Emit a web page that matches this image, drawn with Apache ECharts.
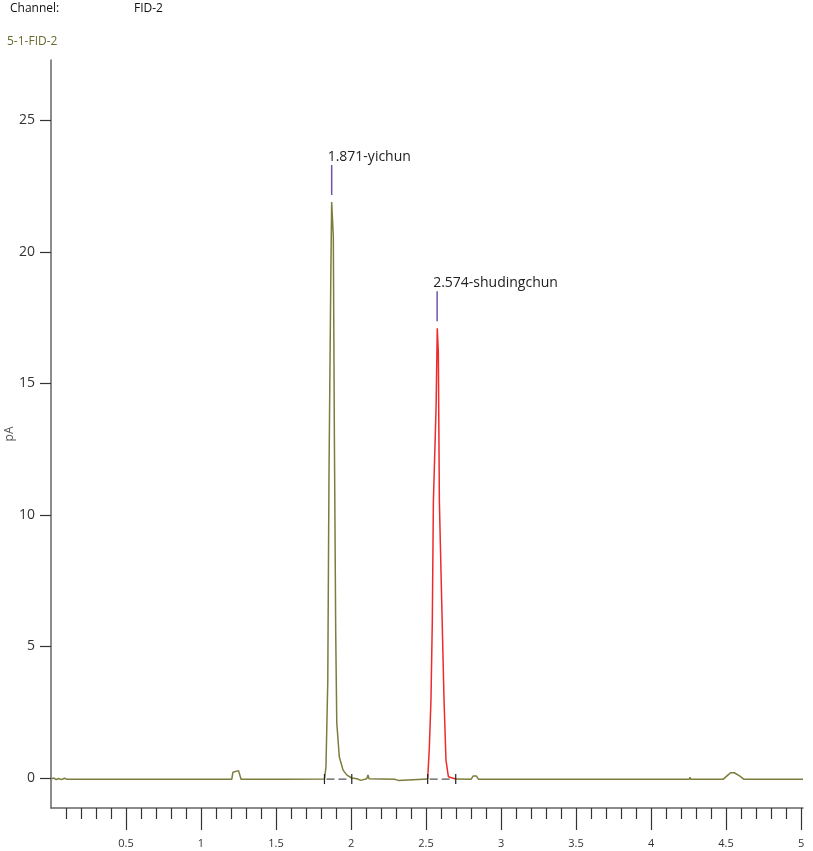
<!DOCTYPE html>
<html>
<head>
<meta charset="utf-8">
<script src="https://cdn.jsdelivr.net/npm/echarts@6/dist/echarts.min.js"></script>
<style>
html,body{margin:0;padding:0;background:#fff;}
#chart{width:813px;height:851px;}
</style>
</head>
<body>
<div id="chart"></div>
<script>
// ---- data ----
// olive FID-2 trace (time in min, signal in pA); null marks where the red peak takes over
const oliveTime = [0.005,0.02,0.035,0.05,0.07,0.09,0.107,0.5,1.0,1.205,1.213,1.222,1.25,1.258,1.267,1.52,1.527,1.533,1.555,1.56,1.566,
  1.823,1.833,1.845,1.853,1.865,1.871,1.882,1.889,1.898,1.905,1.922,1.947,1.973,2.005,2.04,2.047,2.053,2.065,2.07,2.105,2.113,2.12,
  2.29,2.297,2.303,2.315,2.32,2.511,2.6,2.698,2.80,2.815,2.835,2.85,4.255,4.26,4.265,4.48,4.51,4.53,4.555,4.59,4.62,5.013];
const oliveSignal = [-0.03,0.0,-0.06,-0.02,-0.06,-0.01,-0.05,-0.05,-0.05,-0.05,0.22,0.28,0.28,0.22,-0.05,-0.05,-0.09,-0.05,-0.05,-0.09,-0.05,
  -0.04,0.42,3.65,11.4,18.9,21.9,20.6,13.0,5.5,2.1,0.8,0.3,0.11,0.0,-0.03,-0.09,-0.04,-0.09,-0.04,-0.03,0.12,-0.03,
  -0.05,-0.09,-0.05,-0.09,-0.05,-0.04,null,-0.04,-0.05,0.08,0.08,-0.05,-0.05,0.03,-0.05,-0.05,0.1,0.2,0.2,0.08,-0.05,-0.05];
// red integrated peak
const redTime = [2.511,2.522,2.533,2.542,2.549,2.567,2.575,2.582,2.589,2.605,2.620,2.633,2.649,2.698];
const redSignal = [-0.04,1.14,2.97,6.0,10.5,14.1,17.1,16.2,10.5,6.6,2.97,0.68,0.05,-0.04];
// peak labels
const peakTimes = [1.871, 2.574];
const peakHeights = [21.9, 17.1];
const peakNames = ['1.871-yichun', '2.574-shudingchun'];
// integration baselines
const intStart = [1.823, 2.511];
const intEnd = [2.005, 2.698];
const intLevel = [-0.04, -0.04];
// axis ticks
const xMajorTicks = [0.5,1,1.5,2,2.5,3,3.5,4,4.5,5];
const xMajorLabels = ['0.5','1','1.5','2','2.5','3','3.5','4','4.5','5'];
const yTicks = [0,5,10,15,20,25];
const yTickLabels = ['0','5','10','15','20','25'];

const xMinorTicks = [];
for (let i = 1; i < 50; i++) { if (i % 5 !== 0) xMinorTicks.push(i / 10); }

const oliveData = oliveTime.map((t, i) => [t, oliveSignal[i] === null ? '-' : oliveSignal[i]]);
const redData = redTime.map((t, i) => [t, redSignal[i]]);
const peakData = peakTimes.map((t, i) => [t, peakHeights[i], i]);
const intData = intStart.map((s, i) => [s, intEnd[i], intLevel[i]]);

const FONT = '"Open Sans", "Noto Sans", sans-serif';
const X_MIN = 0, X_MAX = 5.013, Y_MIN = -1.14, Y_MAX = 27.3;

const chart = echarts.init(document.getElementById('chart'), null, {renderer: 'canvas'});
chart.setOption({
  animation: false,
  backgroundColor: '#fff',
  grid: {left: 51, right: 10, top: 60, bottom: 43, containLabel: false, outerBoundsMode: 'none'},
  graphic: [
    {type: 'text', left: 10, top: 3, style: {text: 'Channel:', fill: '#111', font: '12px ' + FONT}},
    {type: 'text', left: 134, top: 3, style: {text: 'FID-2', fill: '#111', font: '12px ' + FONT}},
    {type: 'text', left: 7, top: 36, style: {text: '5-1-FID-2', fill: '#6b6b2e', font: '12px ' + FONT}}
  ],
  xAxis: [
    {
      type: 'value', min: X_MIN, max: X_MAX, position: 'bottom',
      axisLine: {show: true, onZero: false, lineStyle: {color: '#666', width: 1.5}},
      axisTick: {show: true, inside: false, length: 22, customValues: xMajorTicks, lineStyle: {color: '#333', width: 1.2}},
      axisLabel: {show: true, customValues: xMajorTicks, margin: 30, color: '#333', fontSize: 11, fontFamily: FONT,
        formatter: v => { const i = xMajorTicks.findIndex(m => Math.abs(m - v) < 1e-6); return i >= 0 ? xMajorLabels[i] : ''; }},
      splitLine: {show: false}
    },
    {
      type: 'value', min: X_MIN, max: X_MAX, position: 'bottom', offset: 0,
      axisLine: {show: false, onZero: false},
      axisTick: {show: true, inside: false, length: 11, customValues: xMinorTicks, lineStyle: {color: '#333', width: 1.2}},
      axisLabel: {show: false},
      splitLine: {show: false}
    }
  ],
  yAxis: {
    type: 'value', min: Y_MIN, max: Y_MAX,
    name: 'pA', nameLocation: 'middle', nameGap: 35, nameRotate: 90, nameMoveOverlap: false,
    nameTextStyle: {color: '#555', fontSize: 12, fontFamily: FONT},
    axisLine: {show: true, onZero: false, lineStyle: {color: '#666', width: 1.5}},
    axisTick: {show: true, inside: false, length: 11, customValues: yTicks, lineStyle: {color: '#333', width: 1.2}},
    axisLabel: {show: true, customValues: yTicks, margin: 16, color: '#333', fontSize: 14, fontFamily: FONT,
      formatter: v => { const i = yTicks.findIndex(m => Math.abs(m - v) < 1e-6); return i >= 0 ? yTickLabels[i] : ''; }},
    splitLine: {show: false}
  },
  series: [
    {
      type: 'line', name: 'FID-2', xAxisIndex: 0, data: oliveData, showSymbol: false, symbol: 'none',
      connectNulls: false, lineStyle: {color: '#7c7c3c', width: 1.5}, z: 2
    },
    {
      type: 'line', name: 'peak', xAxisIndex: 0, data: redData, showSymbol: false, symbol: 'none',
      lineStyle: {color: '#ee2a2a', width: 1.5}, z: 3
    },
    {
      type: 'custom', xAxisIndex: 0, data: intData, z: 4, clip: false,
      renderItem: (params, api) => {
        const a = api.coord([api.value(0), api.value(2)]);
        const b = api.coord([api.value(1), api.value(2)]);
        return {type: 'group', children: [
          {type: 'line', shape: {x1: a[0] + 2, y1: a[1], x2: b[0] - 2, y2: b[1]}, style: {stroke: '#555', lineWidth: 1.2, lineDash: [8, 4]}},
          {type: 'line', shape: {x1: a[0], y1: a[1] - 5, x2: a[0], y2: a[1] + 5}, style: {stroke: '#222', lineWidth: 1.2}},
          {type: 'line', shape: {x1: b[0], y1: b[1] - 5, x2: b[0], y2: b[1] + 5}, style: {stroke: '#222', lineWidth: 1.2}}
        ]};
      }
    },
    {
      type: 'custom', xAxisIndex: 0, data: peakData, z: 5, clip: false,
      renderItem: (params, api) => {
        const p = api.coord([api.value(0), api.value(1)]);
        const name = peakNames[api.value(2)];
        return {type: 'group', children: [
          {type: 'line', shape: {x1: p[0], y1: p[1] - 7, x2: p[0], y2: p[1] - 37}, style: {stroke: '#6f55a8', lineWidth: 1.5}},
          {type: 'text', style: {x: p[0] - 4, y: p[1] - 38, text: name, fill: '#222', font: '14px ' + FONT, align: 'left', verticalAlign: 'bottom'}}
        ]};
      }
    }
  ]
});
</script>
</body>
</html>
